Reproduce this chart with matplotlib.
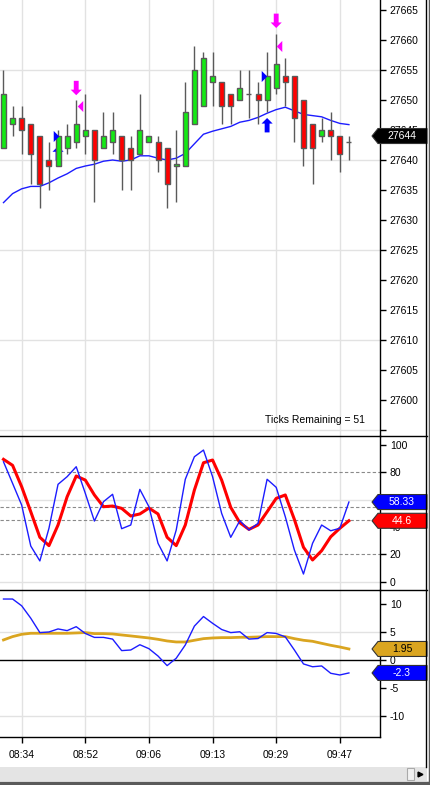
import numpy as np
import matplotlib.pyplot as plt
from matplotlib.lines import Line2D
from matplotlib.patches import Polygon, Rectangle

plt.rcParams['font.family'] = ['Liberation Sans', 'DejaVu Sans']
plt.rcParams['font.size'] = 7.5
plt.rcParams['axes.unicode_minus'] = False

W, H = 431, 785

# price bars (one bar per tick block)
opens = [27642, 27646, 27647, 27646, 27644, 27640, 27639, 27642, 27643, 27644,
         27645, 27642, 27643, 27644, 27642, 27641, 27643, 27643, 27642, 27639,
         27639, 27646, 27649, 27653, 27653, 27651, 27650, 27651, 27651, 27650,
         27652, 27654, 27654, 27650, 27646, 27644, 27645, 27644, 27643]
highs = [27655, 27649, 27649, 27646, 27644, 27643, 27645, 27646, 27650, 27651,
         27645, 27648, 27648, 27644, 27644, 27651, 27644, 27644, 27642, 27645,
         27653, 27659, 27658, 27658, 27653, 27651, 27655, 27655, 27653, 27658,
         27661, 27657, 27654, 27650, 27646, 27647, 27648, 27644, 27644]
lows = [27642, 27644, 27641, 27636, 27632, 27635, 27639, 27641, 27642, 27641,
        27633, 27642, 27641, 27635, 27635, 27641, 27643, 27638, 27632, 27633,
        27639, 27646, 27649, 27649, 27646, 27646, 27650, 27647, 27646, 27648,
        27651, 27649, 27643, 27639, 27636, 27643, 27640, 27638, 27640]
closes = [27651, 27647, 27645, 27641, 27636, 27639, 27644, 27644, 27646, 27645,
          27640, 27644, 27645, 27640, 27640, 27645, 27644, 27640, 27636, 27639.4,
          27648, 27655, 27657, 27654, 27649, 27649, 27652, 27651, 27650, 27654,
          27656, 27653, 27647, 27642, 27642, 27645, 27644, 27641, 27643]
ma = [27632.9, 27634.4, 27635.2, 27635.6, 27635.6, 27636.2, 27637.0, 27637.7, 27638.6, 27639.0,
      27639.3, 27639.8, 27640.0, 27639.8, 27640.0, 27640.7, 27640.7, 27640.3, 27640.0, 27640.3,
      27641.1, 27642.7, 27644.3, 27644.8, 27645.2, 27645.6, 27646.3, 27646.6, 27647.1, 27647.8,
      27648.4, 27648.8, 27648.2, 27647.6, 27647.4, 27647.2, 27646.6, 27646.1, 27645.9]

# signal markers
down_arrow_x = [8, 30]
down_arrow_tip = [27650.8, 27662.0]
up_arrow_x = [6, 29]
up_arrow_tip = [27642.3, 27647.0]
exit_mark_x = [8.4, 30.35]
exit_mark_y = [27649, 27659]
entry_mark_x = [5.8, 28.65]
entry_mark_y = [27644, 27654]

# stochastics
stoch_k = [87.8, 72.0, 56.1, 26.1, 15.2, 39.1, 71.3, 76.9, 84.2, 64.7,
           44.4, 58.6, 64.0, 38.8, 41.5, 67.6, 54.9, 28.1, 15.2, 37.8,
           75.0, 91.5, 96.4, 76.9, 50.0, 32.5, 44.7, 37.8, 42.7, 75.0,
           69.1, 47.6, 23.2, 5.6, 28.1, 41.5, 37.3, 39.1, 58.33]
stoch_d = [89.6, 85.2, 69.5, 51.2, 32.5, 26.4, 41.5, 62.2, 77.4, 74.4,
           63.5, 54.9, 55.4, 53.7, 48.1, 49.6, 53.9, 49.6, 32.5, 26.4,
           41.5, 67.1, 87.1, 89.1, 74.4, 54.4, 43.2, 38.3, 41.5, 51.2,
           61.0, 63.5, 45.6, 25.2, 15.9, 22.7, 32.9, 39.1, 44.6]

# lower oscillator
osc_fast = [10.8, 10.8, 9.6, 7.4, 4.85, 4.96, 5.5, 5.2, 5.9, 4.7,
            4.0, 4.0, 3.7, 1.66, 1.77, 2.7, 2.0, 0.7, -1.0, 0.3,
            2.66, 6.0, 7.7, 6.5, 5.4, 4.85, 5.0, 3.7, 3.8, 4.85,
            4.7, 4.1, 1.77, -0.7, -1.2, -1.06, -2.36, -2.66, -2.3]
osc_slow = [3.55, 4.14, 4.55, 4.73, 4.73, 4.73, 4.73, 4.73, 4.79, 4.85,
            4.67, 4.67, 4.61, 4.43, 4.26, 4.08, 3.9, 3.66, 3.37, 3.19,
            3.19, 3.49, 3.78, 3.9, 3.96, 3.96, 4.02, 4.02, 4.08, 4.14,
            4.14, 4.14, 3.78, 3.49, 3.31, 2.95, 2.6, 2.3, 1.95]

time_ticks = [2, 9, 16, 23, 30, 37]
time_labels = ['08:34', '08:52', '09:06', '09:13', '09:29', '09:47']

GREEN = '#14ea14'
RED = '#ff0000'
EDGE = '#5a5a5a'
GRID = '#e2e2e2'
BLUE = '#1c1cff'
GOLD = '#daa520'


def fx(px):
    return px / W


def fy(px):
    return 1 - px / H


fig = plt.figure(figsize=(W / 100, H / 100), dpi=100)
ax1 = fig.add_axes([0, fy(436), fx(380), 436 / H])
ax2 = fig.add_axes([0, fy(590), fx(380), 154 / H])
ax3 = fig.add_axes([0, fy(737), fx(380), 147 / H])

idx = np.arange(len(opens))
for ax in (ax1, ax2, ax3):
    ax.set_xlim(-0.385, 41.42)
    ax.set_xticks(time_ticks)
    ax.grid(axis='x', color=GRID, lw=1)
    ax.set_axisbelow(True)
    ax.yaxis.tick_right()
    ax.tick_params(axis='y', direction='out', length=4.5, width=1, pad=2.5,
                   labelsize=7.5, colors='black')
    ax.spines['left'].set_visible(False)
    for s in ('right', 'top', 'bottom'):
        ax.spines[s].set_color('black')
        ax.spines[s].set_linewidth(1)
ax1.spines['top'].set_visible(False)
ax1.spines['bottom'].set_visible(False)
ax2.spines['bottom'].set_visible(False)
ax1.tick_params(axis='x', length=0, labelbottom=False)
ax2.tick_params(axis='x', length=0, labelbottom=False)
ax3.set_xticklabels(time_labels)
ax3.tick_params(axis='x', direction='out', length=4, width=1, pad=5, labelsize=7.5)

# ---- price panel
ax1.set_ylim(27594, 27666.67)
ax1.set_yticks(np.arange(27595, 27666, 5))
ax1.set_yticklabels([''] + [str(v) for v in range(27600, 27666, 5)])
for g in (27655, 27640, 27625, 27610, 27595):
    ax1.axhline(g, color=GRID, lw=1, zorder=0)

ax1.plot(idx, ma, color=BLUE, lw=1, zorder=2)

opens_a = np.array(opens, dtype=float)
closes_a = np.array(closes, dtype=float)
body_w = 0.55
ax1.vlines(idx, lows, highs, color=EDGE, lw=1, zorder=3)
up = closes_a > opens_a
dn = closes_a < opens_a
eq = closes_a == opens_a
ax1.bar(idx[up], (closes_a - opens_a)[up], bottom=opens_a[up], width=body_w,
        color=GREEN, edgecolor=EDGE, lw=1, zorder=4)
ax1.bar(idx[dn], (opens_a - closes_a)[dn], bottom=closes_a[dn], width=body_w,
        color=RED, edgecolor=EDGE, lw=1, zorder=4)
ax1.hlines(closes_a[eq], idx[eq] - body_w / 2, idx[eq] + body_w / 2, color=EDGE, lw=1, zorder=4)

arrow_style = 'simple,head_length=0.4,head_width=0.8,tail_width=0.35'
for x, tip in zip(down_arrow_x, down_arrow_tip):
    ax1.annotate('', xy=(x, tip), xytext=(x, tip + 2.4),
                 arrowprops=dict(arrowstyle=arrow_style, fc='#ff00ff', ec='none',
                                 shrinkA=0, shrinkB=0, mutation_scale=10), zorder=5)
for x, tip in zip(up_arrow_x, up_arrow_tip):
    ax1.annotate('', xy=(x, tip), xytext=(x, tip - 2.4),
                 arrowprops=dict(arrowstyle=arrow_style, fc='#0000ff', ec='none',
                                 shrinkA=0, shrinkB=0, mutation_scale=10), zorder=2)
ax1.plot(exit_mark_x, exit_mark_y, ls='none', marker=[(1, 2), (1, -2), (-1, 0)],
         ms=8, color='#ff00ff', mec='none', zorder=5)
ax1.plot(entry_mark_x, entry_mark_y, ls='none', marker=[(-1, 2), (-1, -2), (1, 0)],
         ms=8, color='#0000ff', mec='none', zorder=5)

ax1.text(365 / 380, (436 - 420) / 436, 'Ticks Remaining = 51', transform=ax1.transAxes,
         ha='right', va='center', fontsize=7.5)

# ---- stochastics panel
ax2.set_ylim(-6.1, 106.7)
ax2.set_yticks(np.arange(0, 101, 20))
for g in (0, 60):
    ax2.axhline(g, color=GRID, lw=1, zorder=0)
for g in (80, 55, 45, 20):
    ax2.axhline(g, color='#8a8a8a', lw=0.8, ls=(0, (3, 2)), zorder=1)
ax2.plot(idx, stoch_k, color=BLUE, lw=1, zorder=3)
ax2.plot(idx, stoch_d, color=RED, lw=2.2, zorder=2)

# ---- lower oscillator panel
ax3.set_ylim(-13.65, 12.4)
ax3.set_yticks(np.arange(-10, 11, 5))
for g in (5, -10):
    ax3.axhline(g, color=GRID, lw=1, zorder=0)
ax3.axhline(0, color='black', lw=1, zorder=1)
ax3.plot(idx, osc_slow, color=GOLD, lw=2, zorder=2)
ax3.plot(idx, osc_fast, color=BLUE, lw=1, zorder=3)


# value tags on the right scale
def tag(ax, value, text, fc, tc):
    yc = ax.transData.transform((0, value))[1] / H
    h = 7.5 / H
    x0, x1, x2 = fx(372), fx(378), fx(427)
    poly = Polygon([(x0, yc), (x1, yc + h), (x2, yc + h), (x2, yc - h), (x1, yc - h)],
                   closed=True, transform=fig.transFigure, fc=fc, ec='#333333', lw=0.8)
    fig.add_artist(poly)
    fig.text(fx(402), yc, text, color=tc, ha='center', va='center', fontsize=7.5)


tag(ax1, 27644, '27644', 'black', 'white')
tag(ax2, stoch_k[-1], f'{stoch_k[-1]:.2f}', '#0000ff', 'white')
tag(ax2, stoch_d[-1], f'{stoch_d[-1]:.1f}', RED, 'white')
tag(ax3, osc_slow[-1], f'{osc_slow[-1]:.2f}', GOLD, 'black')
tag(ax3, osc_fast[-1], f'{osc_fast[-1]:.1f}', '#0000ff', 'white')

# frame lines and scrollbar
for ypx in (436, 590):
    fig.add_artist(Line2D([fx(380), fx(427)], [fy(ypx), fy(ypx)], color='black', lw=1))
fig.add_artist(Line2D([fx(426.5), fx(426.5)], [fy(0), fy(767)], color='black', lw=1))
fig.add_artist(Rectangle((0, fy(781)), fx(427), 14 / H, transform=fig.transFigure,
                         fc='#e4e4e4', ec='none'))
fig.add_artist(Rectangle((fx(407), fy(780)), fx(7), 12 / H, transform=fig.transFigure,
                         fc='#f2f2f2', ec='#aaaaaa', lw=0.8))
fig.add_artist(Line2D([fx(420.5)], [fy(774)], marker='>', ms=3.5, color='black', ls='none'))
fig.add_artist(Line2D([0, 1], [fy(782.5), fy(782.5)], color='#5a5a5a', lw=2.5))
fig.add_artist(Line2D([fx(429.8), fx(429.8)], [0, 1], color='#5a5a5a', lw=2.5))

fig.savefig('out.png', dpi=100)
